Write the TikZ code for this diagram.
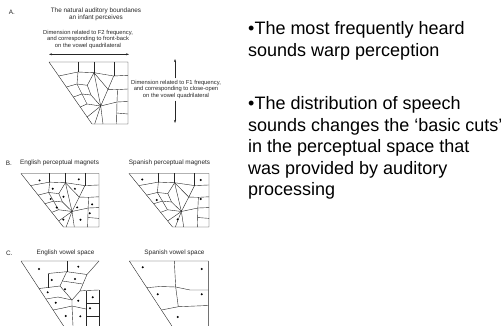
\documentclass[tikz,border=0pt]{standalone}
\usepackage{fontspec}
\setmainfont{Liberation Sans}
\usetikzlibrary{arrows.meta}
\newcommand{\auditorymesh}{%
  \draw[meshline] (0,0) -- (79,0) -- (79,62) -- (43,62) -- cycle;
  \draw[meshline] (29,0) -- (29,10);
  \draw[meshline] (45,0) -- (45,10.7);
  \draw[meshline] (64.7,0) -- (64.7,14);
  \draw[meshline] (9.7,14) -- (29,10) -- (45,10.7) -- (64.7,14) -- (79,13.3);
  \draw[meshline] (17.4,25) -- (28,22) -- (38.3,23.3);
  \draw[meshline] (24.3,35) -- (33,32) -- (42,33) -- (51.7,44);
  \draw[meshline] (31.2,45) -- (38,42) -- (51.7,44);
  \draw[meshline] (38.2,55) -- (51.7,44);
  \draw[meshline] (29,10) -- (28,22) -- (33,32) -- (38,42);
  \draw[meshline] (45,10.7) -- (38.3,23.3) -- (42,33);
  \draw[meshline] (45,10.7) -- (59,27.3) -- (51.7,44) -- cycle;
  \draw[meshline] (64.7,14) -- (59,27.3) -- (68.5,27.6) -- (79,27);
  \draw[meshline] (68.5,27.6) -- (68,40) -- (67.5,62);
  \draw[meshline] (68,40) -- (79,39.5);
  \draw[meshline] (67.7,51) -- (79,52);
  \draw[meshline] (51.7,44) -- (68,40);
  \draw[meshline] (51.7,44) -- (45.7,62);
  \draw[meshline] (51.7,44) -- (54,62);
}
\begin{document}
\begin{tikzpicture}[x=1pt,y=-1pt,
  meshline/.style={line width=0.4pt, draw=black!85, line join=round},
  vdot/.style={circle, fill=black, inner sep=0pt, minimum size=2.2pt},
  smalllab/.style={font=\fontsize{5.8}{6.7}\selectfont, text=black!85, inner sep=1.5pt, align=center},
  ttl/.style={font=\fontsize{6.4}{7.3}\selectfont, text=black!85, inner sep=0pt, align=center},
  bul/.style={font=\fontsize{18}{21.6}\selectfont, anchor=base west, inner sep=0pt},
  dimarrow/.style={line width=0.4pt, draw=black!85}
]
\useasboundingbox (0,0) rectangle (501,326);

% ---------- Panel A ----------
\node[ttl] (la) at (12,12.5) {A.};
\node[ttl] (ta) at (96,14.6) {The natural auditory boundanes\\an infant perceives};
\node[smalllab, inner sep=0pt] (f2lab) at (88,39.4) {Dimension related to F2 frequency,\\and corresponding to front-back\\on the vowel quadrilateral};
\coordinate (f2l) at (49,54.3);
\coordinate (f2r) at (129,54.3);
\draw[dimarrow, {Stealth[length=3pt,width=2pt]}-{Stealth[length=3pt,width=2pt]}] (f2l) -- (f2r);
\node[smalllab] (f1lab) at (176,89.5) {Dimension related to F1 frequency,\\and corresponding to close-open\\on the vowel quadrilateral};
\coordinate (f1top) at (175,59);
\coordinate (f1bot) at (175,123);
\draw[dimarrow, -{Stealth[length=3pt,width=2pt]}] (f1lab.north -| f1top) -- (f1top);
\draw[dimarrow, -{Stealth[length=3pt,width=2pt]}] (f1lab.south -| f1bot) -- (f1bot);
\begin{scope}[shift={(49,62)}]
  \auditorymesh
\end{scope}

% ---------- Panel B ----------
\node[ttl] (lb) at (9,163.3) {B.};
\node[ttl] (tbe) at (59.5,163.3) {English perceptual magnets};
\node[ttl] (tbs) at (169.5,162.5) {Spanish perceptual magnets};
\begin{scope}[shift={(21,173.5)}, xscale=0.987, yscale=0.863]
  \auditorymesh
\end{scope}
\begin{scope}[shift={(129,173.5)}, xscale=1.013, yscale=0.863]
  \auditorymesh
\end{scope}
\node[vdot] (be1) at (39.5,180.4) {};
\node[vdot] (be2) at (78.8,179.3) {};
\node[vdot] (be3) at (52.7,188.8) {};
\node[vdot] (be4) at (74.9,188.8) {};
\node[vdot] (be5) at (50.7,198.9) {};
\node[vdot] (be6) at (63.5,196.8) {};
\node[vdot] (be7) at (56.7,207.5) {};
\node[vdot] (be8) at (77.2,207.4) {};
\node[vdot] (be9) at (92.1,204.3) {};
\node[vdot] (be10) at (89.7,213.2) {};
\node[vdot] (be11) at (63.3,219.6) {};
\node[vdot] (be12) at (80.5,219.8) {};
\node[vdot] (bs1) at (142.2,179.5) {};
\node[vdot] (bs2) at (200.8,180) {};
\node[vdot] (bs3) at (156.8,200) {};
\node[vdot] (bs4) at (200.8,199) {};
\node[vdot] (bs5) at (177.6,219.4) {};

% ---------- Panel C ----------
\node[ttl] (lc) at (9.3,253.3) {C.};
\node[ttl] (tce) at (65.5,253.3) {English vowel space};
\node[ttl] (tcs) at (174.5,252.7) {Spanish vowel space};
% English vowel space
\draw[meshline] (99,261) -- (21,261) -- (63.6,326);
\draw[meshline] (99,290) -- (99,326);
\draw[meshline] (66.7,261) -- (66.7,271.7);
\draw[meshline] (48,273.5) -- (66.7,271.7) -- (87,274.5) -- (99,261);
\draw[meshline] (48,273.5) -- (48,287.5);
\draw[meshline] (66.7,271.7) -- (60,286) -- (72,300) -- (80,291) -- (87,274.5);
\draw[meshline] (62.3,281) -- (82.7,284);
\draw[meshline] (39,288.5) -- (48,287.5) -- (60,286);
\draw[meshline] (46,299) -- (58,297) -- (72,300);
\draw[meshline] (72,300) -- (72,306) -- (73,326);
\draw[meshline] (53.1,310) -- (63,308) -- (72,306);
\draw[meshline] (80,291) -- (86,290.5) -- (99,290);
\draw[meshline] (86,290.5) -- (86,326);
\draw[meshline] (86,303) -- (99,303);
\draw[meshline] (86,316) -- (99,316);
\draw[meshline] (72,306) -- (86,309);
\node[vdot] (ce1) at (39,269) {};
\node[vdot] (ce2) at (78.3,266.7) {};
\node[vdot] (ce3) at (51.7,280) {};
\node[vdot] (ce4) at (75,279) {};
\node[vdot] (ce5) at (65,289.3) {};
\node[vdot] (ce6) at (47.7,292.3) {};
\node[vdot] (ce7) at (55.7,302.7) {};
\node[vdot] (ce8) at (78.3,300.7) {};
\node[vdot] (ce9) at (92.7,297.3) {};
\node[vdot] (ce10) at (90,308.3) {};
\node[vdot] (ce11) at (65.7,316) {};
\node[vdot] (ce12) at (80.3,316.3) {};
% Spanish vowel space
\draw[meshline] (208.3,326) -- (208.3,261) -- (129.3,261) -- (171.9,326);
\draw[meshline] (174.3,261) -- (175.7,287) -- (178.3,306.7);
\draw[meshline] (146.8,287.7) -- (160,286.5) -- (175.7,287) -- (190,290) -- (208.3,290);
\draw[meshline] (161.4,310) -- (178.3,306.7) -- (208.3,305.5);
\node[vdot] (cs1) at (142.7,267.3) {};
\node[vdot] (cs2) at (201.7,269) {};
\node[vdot] (cs3) at (157.7,294.3) {};
\node[vdot] (cs4) at (201.7,294.3) {};
\node[vdot] (cs5) at (177.7,317) {};

% ---------- Right text ----------
\node[bul] (p1a) at (248,35) {•The most frequently heard};
\node[bul] (p1b) at (248,56.6) {sounds warp perception};
\node[bul] (p2a) at (248,109.5) {•The distribution of speech};
\node[bul] (p2b) at (248,131.1) {sounds changes the ‘basic cuts’};
\node[bul] (p2c) at (248,152.7) {in the perceptual space that};
\node[bul] (p2d) at (248,174.3) {was provided by auditory};
\node[bul] (p2e) at (248,195.9) {processing};
\end{tikzpicture}
\end{document}
